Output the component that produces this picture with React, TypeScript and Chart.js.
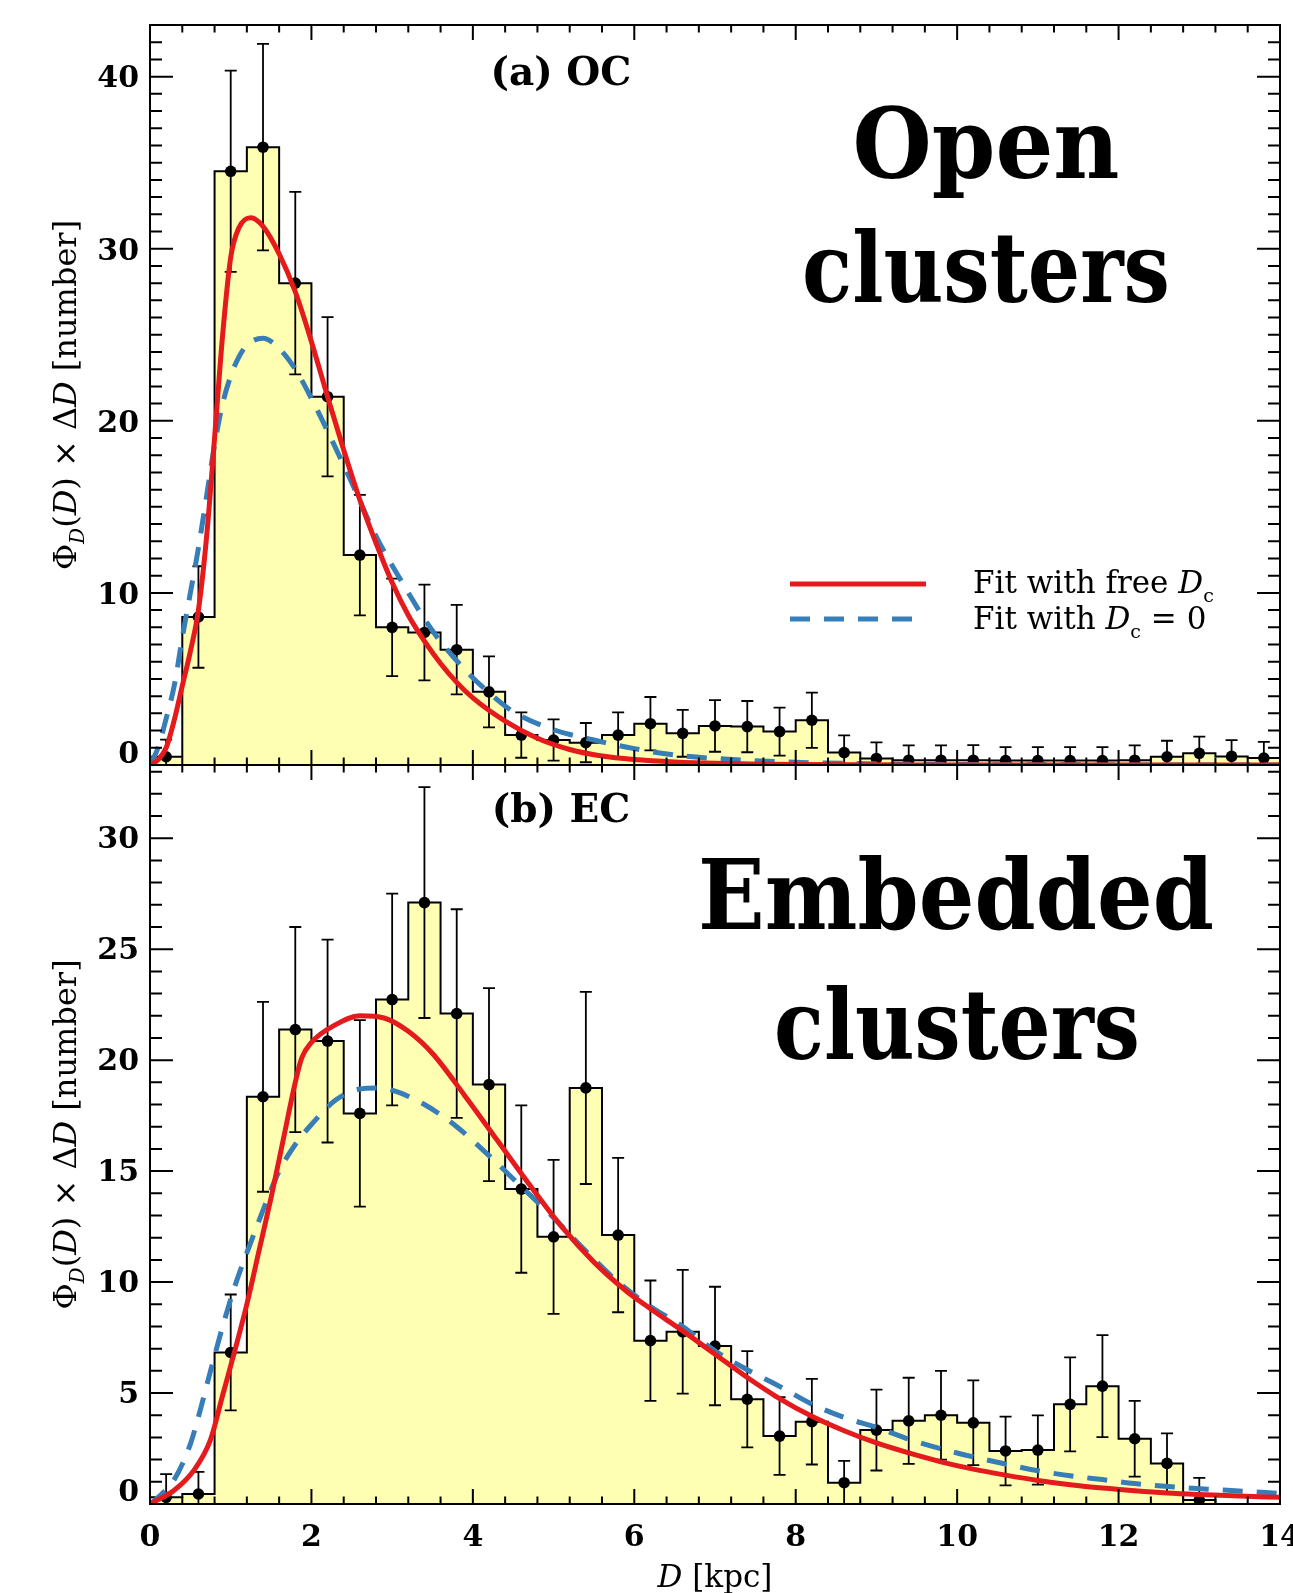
import React, { useEffect, useRef } from 'react';
import { Chart, registerables } from 'chart.js';

Chart.register(...registerables);

// ---------------- data ----------------
const BIN_CENTERS = [0.2, 0.6, 1.0, 1.4, 1.8, 2.2, 2.6, 3.0, 3.4, 3.8, 4.2, 4.6, 5.0, 5.4, 5.8, 6.2, 6.6, 7.0, 7.4, 7.8, 8.2, 8.6, 9.0, 9.4, 9.8, 10.2, 10.6, 11.0, 11.4, 11.8, 12.2, 12.6, 13.0, 13.4, 13.8];
const BIN_WIDTH = 0.4;

// (a) OC histogram and errors
const OC_COUNTS = [0.48, 8.6, 34.5, 35.9, 28.0, 21.4, 12.2, 8.0, 7.7, 6.7, 4.25, 1.74, 1.45, 1.3, 1.74, 2.4, 1.84, 2.27, 2.23, 1.94, 2.6, 0.72, 0.38, 0.28, 0.28, 0.28, 0.26, 0.26, 0.26, 0.26, 0.28, 0.48, 0.68, 0.5, 0.4];
const OC_ERRORS = [1.0, 2.95, 5.85, 6.0, 5.3, 4.63, 3.5, 2.83, 2.78, 2.6, 2.06, 1.32, 1.2, 1.14, 1.32, 1.55, 1.36, 1.5, 1.49, 1.39, 1.61, 1.0, 0.93, 0.86, 0.86, 0.87, 0.78, 0.78, 0.78, 0.78, 0.86, 0.93, 0.97, 0.95, 0.94];

// (b) EC histogram and errors (null = no marker)
const EC_COUNTS = [0.3, 0.45, 6.83, 18.35, 21.38, 20.86, 17.6, 22.73, 27.1, 22.1, 18.9, 14.19, 12.04, 18.75, 12.12, 7.36, 7.76, 7.12, 4.72, 3.06, 3.71, 0.96, 3.33, 3.75, 4.0, 3.66, 2.39, 2.43, 4.49, 5.31, 2.94, 1.83, 0.18, 0, 0];
const EC_ERRORS: (number | null)[] = [1.05, 1.0, 2.61, 4.28, 4.62, 4.57, 4.2, 4.77, 5.2, 4.7, 4.35, 3.77, 3.47, 4.33, 3.48, 2.71, 2.79, 2.67, 2.17, 1.75, 1.93, 0.98, 1.82, 1.94, 2.0, 1.91, 1.55, 1.56, 2.12, 2.3, 1.71, 1.35, 1.0, null, null];

// fit curves, (a) OC
const OC_FREE_X = [0, 0.1, 0.2, 0.3, 0.4, 0.5, 0.6, 0.7, 0.8, 0.9, 1.0, 1.1, 1.25, 1.4, 1.6, 1.8, 2.0, 2.2, 2.4, 2.6, 2.8, 3.0, 3.2, 3.4, 3.6, 3.8, 4.0, 4.4, 4.8, 5.2, 5.6, 6.0, 6.5, 7.0, 8.0, 9.0, 10.0, 12.0, 14.0];
const OC_FREE_Y = [0, 0.3, 1.0, 2.6, 4.6, 6.6, 9.0, 13.2, 19.0, 25.0, 29.5, 31.2, 31.8, 31.3, 29.7, 27.5, 24.6, 21.4, 18.3, 15.4, 12.9, 10.6, 8.7, 7.2, 5.9, 4.8, 3.9, 2.55, 1.55, 0.9, 0.52, 0.32, 0.18, 0.1, 0.03, 0.01, 0.005, 0, 0];
const OC_ZERO_X = [0, 0.1, 0.2, 0.3, 0.4, 0.5, 0.6, 0.7, 0.8, 0.9, 1.0, 1.1, 1.2, 1.4, 1.6, 1.8, 2.0, 2.2, 2.5, 2.8, 3.1, 3.5, 3.85, 4.2, 4.5, 5.0, 5.5, 6.0, 6.5, 7.0, 8.0, 9.0, 10.0, 12.0, 14.0];
const OC_ZERO_Y = [0, 1.0, 2.7, 4.6, 7.4, 10.0, 12.6, 15.6, 18.6, 21.0, 22.6, 23.7, 24.4, 24.8, 24.2, 23.0, 21.3, 19.4, 16.4, 13.3, 10.8, 7.8, 5.8, 4.2, 3.1, 2.05, 1.45, 0.95, 0.58, 0.38, 0.16, 0.07, 0.03, 0.005, 0];

// fit curves, (b) EC
const EC_FREE_X = [0, 0.3, 0.55, 0.75, 0.9, 1.05, 1.2, 1.35, 1.5, 1.65, 1.8, 1.88, 2.0, 2.3, 2.6, 2.9, 3.2, 3.5, 3.9, 4.3, 4.7, 5.1, 5.5, 5.9, 6.2, 6.6, 7.0, 7.4, 7.8, 8.2, 8.6, 9.0, 9.4, 9.8, 10.2, 10.6, 11.0, 11.4, 11.8, 12.2, 12.6, 13.0, 13.5, 14.0];
const EC_FREE_Y = [0, 0.62, 1.55, 2.9, 4.9, 6.9, 9.0, 11.4, 13.8, 16.4, 19.0, 20.1, 20.8, 21.6, 22.0, 21.9, 21.3, 20.3, 18.4, 16.4, 14.4, 12.5, 10.9, 9.6, 8.8, 7.8, 6.75, 5.7, 4.75, 3.95, 3.3, 2.75, 2.3, 1.9, 1.57, 1.3, 1.06, 0.87, 0.72, 0.6, 0.5, 0.43, 0.36, 0.3];
const EC_ZERO_X = [0, 0.1, 0.3, 0.5, 0.62, 0.75, 0.9, 1.05, 1.25, 1.45, 1.6, 1.8, 2.0, 2.3, 2.6, 2.8, 3.0, 3.4, 3.8, 4.2, 4.6, 5.0, 5.4, 5.8, 6.2, 6.6, 7.0, 7.4, 7.8, 8.2, 8.6, 9.0, 9.5, 10.0, 10.6, 11.0, 11.4, 11.8, 12.2, 12.7, 13.3, 14.0];
const EC_ZERO_Y = [0, 0.3, 1.1, 2.7, 4.2, 6.0, 8.0, 9.8, 11.8, 13.7, 15.0, 16.2, 17.1, 18.2, 18.7, 18.75, 18.65, 18.0, 17.0, 15.7, 14.3, 12.9, 11.4, 10.0, 8.9, 8.0, 6.9, 6.05, 5.3, 4.5, 3.9, 3.45, 2.8, 2.3, 1.8, 1.5, 1.27, 1.1, 0.92, 0.76, 0.63, 0.48];

// axes
const X_MIN = 0;
const X_MAX = 14;
const X_MAJOR_STEP = 2;
const X_MINOR_STEP = 0.4;
const OC_Y_MAX = 43;
const OC_Y_MAJOR = 10;
const EC_Y_MAX = 33.3;
const EC_Y_MAJOR = 5;
const Y_MINOR_STEP = 1;

// ---------------- styling / layout ----------------
const W = 1293;
const H = 1593;
const AREA_LEFT = 150;
const AREA_RIGHT = 1280;
const TOP_AREA = { top: 25, bottom: 765 };
const BOT_AREA = { top: 765, bottom: 1504 };
const RED = '#E41A1C';
const BLUE = '#377EB8';
const YELLOW = '#FFFFB3';
const SERIF = '"DejaVu Serif", "Liberation Serif", serif';
const fnt = (size: number, style = '') => `${style} ${size}px ${SERIF}`.trim();
const TICK_FONT_SIZE = 30;

type Seg = { t: string; font: string; dy?: number };

function drawRich(ctx: CanvasRenderingContext2D, segs: Seg[], x: number, y: number, align: 'left' | 'center') {
  ctx.textAlign = 'left';
  ctx.textBaseline = 'alphabetic';
  ctx.fillStyle = '#000';
  let total = 0;
  const widths = segs.map((s) => {
    ctx.font = s.font;
    const w = ctx.measureText(s.t).width;
    total += w;
    return w;
  });
  let cx = align === 'center' ? x - total / 2 : x;
  segs.forEach((s, i) => {
    ctx.font = s.font;
    ctx.fillText(s.t, cx, y + (s.dy || 0));
    cx += widths[i];
  });
}

function drawFitted(ctx: CanvasRenderingContext2D, text: string, cx: number, baseline: number, size: number, targetW: number) {
  ctx.save();
  ctx.font = fnt(size, 'bold');
  const w = ctx.measureText(text).width;
  ctx.translate(cx, baseline);
  ctx.scale(targetW / w, 1);
  ctx.textAlign = 'center';
  ctx.textBaseline = 'alphabetic';
  ctx.fillStyle = '#000';
  ctx.fillText(text, 0, 0);
  ctx.restore();
}

const Y_TITLE: Seg[] = [
  { t: 'Φ', font: fnt(32) },
  { t: 'D', font: fnt(20, 'italic'), dy: 8 },
  { t: '(', font: fnt(32) },
  { t: 'D', font: fnt(32, 'italic') },
  { t: ')', font: fnt(32) },
  { t: ' × ', font: fnt(32) },
  { t: 'Δ', font: fnt(32) },
  { t: 'D', font: fnt(32, 'italic') },
  { t: ' [number]', font: fnt(32) },
];

function drawYTitle(chart: any) {
  const { ctx, chartArea: a } = chart;
  ctx.save();
  ctx.translate(76, (a.top + a.bottom) / 2);
  ctx.rotate(-Math.PI / 2);
  drawRich(ctx, Y_TITLE, 0, 0, 'center');
  ctx.restore();
}

type PanelSpec = {
  key: string;
  counts: number[];
  errors: (number | null)[];
  freeX: number[];
  freeY: number[];
  zeroX: number[];
  zeroY: number[];
  yMax: number;
  yMajor: number;
  labelOffset: number;
  area: { top: number; bottom: number };
  showXLabels: boolean;
  decorate: (chart: any) => void;
};

function drawErrorBars(chart: any, p: PanelSpec) {
  const { ctx, chartArea: a, scales } = chart;
  const x = scales.x;
  const y = scales.y;
  const cap = 6;
  ctx.save();
  ctx.beginPath();
  ctx.rect(a.left, a.top, a.right - a.left, a.bottom - a.top);
  ctx.clip();
  ctx.strokeStyle = '#000';
  ctx.lineWidth = 1.8;
  BIN_CENTERS.forEach((c, i) => {
    const e = p.errors[i];
    if (e === null) return;
    const v = p.counts[i];
    const px = x.getPixelForValue(c);
    const yt = y.getPixelForValue(v + e);
    const yb = y.getPixelForValue(v - e);
    ctx.beginPath();
    ctx.moveTo(px, yt);
    ctx.lineTo(px, yb);
    ctx.moveTo(px - cap, yt);
    ctx.lineTo(px + cap, yt);
    ctx.moveTo(px - cap, yb);
    ctx.lineTo(px + cap, yb);
    ctx.stroke();
  });
  ctx.restore();
}

function drawFrame(chart: any, p: PanelSpec) {
  const { ctx, chartArea: a, scales } = chart;
  const x = scales.x;
  const y = scales.y;
  ctx.save();
  ctx.strokeStyle = '#000';
  ctx.setLineDash([]);
  ctx.lineWidth = 2;
  ctx.strokeRect(a.left, a.top, a.right - a.left, a.bottom - a.top);
  ctx.beginPath();
  const perMajorX = Math.round(X_MAJOR_STEP / X_MINOR_STEP);
  const nx = Math.round((X_MAX - X_MIN) / X_MINOR_STEP);
  for (let k = 0; k <= nx; k++) {
    const px = x.getPixelForValue(X_MIN + k * X_MINOR_STEP);
    const len = k % perMajorX === 0 ? 15 : 7.5;
    ctx.moveTo(px, a.bottom);
    ctx.lineTo(px, a.bottom - len);
    ctx.moveTo(px, a.top);
    ctx.lineTo(px, a.top + len);
  }
  const perMajorY = Math.round(p.yMajor / Y_MINOR_STEP);
  const ny = Math.floor(p.yMax / Y_MINOR_STEP + 1e-6);
  for (let k = 0; k <= ny; k++) {
    const py = y.getPixelForValue(k * Y_MINOR_STEP);
    const len = k % perMajorY === 0 ? 23 : 12;
    ctx.moveTo(a.left, py);
    ctx.lineTo(a.left + len, py);
    ctx.moveTo(a.right, py);
    ctx.lineTo(a.right - len, py);
  }
  ctx.stroke();
  // zero label sits a little above its tick, as in the original figure
  ctx.fillStyle = '#000';
  ctx.font = fnt(TICK_FONT_SIZE, 'bold');
  ctx.textAlign = 'right';
  ctx.textBaseline = 'middle';
  ctx.fillText('0', a.left - 11, y.getPixelForValue(0) - 12.5 + p.labelOffset);
  ctx.restore();
}

function decorateTop(chart: any) {
  const ctx: CanvasRenderingContext2D = chart.ctx;
  ctx.save();
  drawRich(ctx, [{ t: '(a) OC', font: fnt(39, 'bold') }], 561, 85, 'center');
  drawFitted(ctx, 'Open', 986, 178, 98, 267);
  drawFitted(ctx, 'clusters', 986, 302, 98, 368);
  // legend
  ctx.lineWidth = 5;
  ctx.strokeStyle = RED;
  ctx.setLineDash([]);
  ctx.beginPath();
  ctx.moveTo(790, 584);
  ctx.lineTo(926, 584);
  ctx.stroke();
  ctx.strokeStyle = BLUE;
  ctx.setLineDash([20, 14]);
  ctx.beginPath();
  ctx.moveTo(790, 619);
  ctx.lineTo(912, 619);
  ctx.stroke();
  ctx.setLineDash([]);
  drawRich(ctx, [
    { t: 'Fit with free ', font: fnt(31) },
    { t: 'D', font: fnt(31, 'italic') },
    { t: 'c', font: fnt(19), dy: 9 },
  ], 973, 593, 'left');
  drawRich(ctx, [
    { t: 'Fit with ', font: fnt(31) },
    { t: 'D', font: fnt(31, 'italic') },
    { t: 'c', font: fnt(19), dy: 9 },
    { t: ' = 0', font: fnt(31) },
  ], 973, 629, 'left');
  ctx.restore();
  drawYTitle(chart);
}

function decorateBottom(chart: any) {
  const ctx: CanvasRenderingContext2D = chart.ctx;
  ctx.save();
  drawRich(ctx, [{ t: '(b) EC', font: fnt(39, 'bold') }], 561, 822, 'center');
  drawFitted(ctx, 'Embedded', 956, 929, 98, 516);
  drawFitted(ctx, 'clusters', 957, 1059, 98, 366);
  drawRich(ctx, [
    { t: 'D', font: fnt(31, 'italic') },
    { t: ' [kpc]', font: fnt(31) },
  ], (chart.chartArea.left + chart.chartArea.right) / 2, 1587, 'center');
  ctx.restore();
  drawYTitle(chart);
}

function buildConfig(p: PanelSpec): any {
  const last = BIN_CENTERS.length - 1;
  // histogram outline: one point at each bin's left edge plus the final right edge
  const histData = BIN_CENTERS.map((c, i) => ({ x: c - BIN_WIDTH / 2, y: p.counts[i] }));
  histData.push({ x: BIN_CENTERS[last] + BIN_WIDTH / 2, y: p.counts[last] });
  const pointData = BIN_CENTERS.map((c, i) => ({ x: c, y: p.errors[i] === null ? null : p.counts[i] }));
  const tickFont = { family: SERIF, size: TICK_FONT_SIZE, weight: 'bold' as const };

  return {
    type: 'line',
    data: {
      datasets: [
        {
          label: 'Fit with free Dc',
          data: p.freeX.map((x, i) => ({ x, y: p.freeY[i] })),
          borderColor: RED,
          borderWidth: 5,
          pointRadius: 0,
          fill: false,
          cubicInterpolationMode: 'monotone',
          order: 0,
        },
        {
          label: 'Fit with Dc = 0',
          data: p.zeroX.map((x, i) => ({ x, y: p.zeroY[i] })),
          borderColor: BLUE,
          borderWidth: 5,
          borderDash: [20, 14],
          pointRadius: 0,
          fill: false,
          cubicInterpolationMode: 'monotone',
          order: 1,
        },
        {
          label: 'data',
          data: pointData,
          showLine: false,
          pointRadius: 5.8,
          pointBackgroundColor: '#000',
          pointBorderColor: '#000',
          pointBorderWidth: 0,
          clip: 0,
          order: 2,
        },
        {
          label: 'histogram',
          data: histData,
          stepped: 'before',
          borderColor: '#000',
          borderWidth: 2,
          backgroundColor: YELLOW,
          fill: 'start',
          pointRadius: 0,
          order: 3,
        },
      ],
    },
    options: {
      responsive: false,
      animation: false,
      devicePixelRatio: 1,
      events: [],
      layout: {
        padding: {
          left: 0,
          right: W - AREA_RIGHT,
          top: p.area.top,
          bottom: p.showXLabels ? 0 : H - p.area.bottom,
        },
      },
      plugins: {
        legend: { display: false },
        tooltip: { enabled: false },
        title: { display: false },
      },
      scales: {
        x: {
          type: 'linear',
          min: X_MIN,
          max: X_MAX,
          grid: { display: false, drawTicks: false },
          border: { display: false },
          ticks: {
            display: p.showXLabels,
            stepSize: X_MAJOR_STEP,
            includeBounds: false,
            autoSkip: false,
            maxRotation: 0,
            minRotation: 0,
            padding: 16,
            color: '#000',
            font: tickFont,
          },
          afterFit: (s: any) => {
            s.paddingLeft = 0;
            s.paddingRight = 0;
            s.height = p.showXLabels ? H - p.area.bottom : 0;
          },
        },
        y: {
          type: 'linear',
          min: 0,
          max: p.yMax,
          grid: { display: false, drawTicks: false },
          border: { display: false },
          ticks: {
            stepSize: p.yMajor,
            includeBounds: false,
            padding: 11,
            labelOffset: p.labelOffset,
            color: '#000',
            font: tickFont,
            callback: (v: number) => (v === 0 ? '' : String(v)),
          },
          afterFit: (s: any) => {
            s.width = AREA_LEFT;
            s.paddingTop = 0;
            s.paddingBottom = 0;
          },
        },
      },
    },
    plugins: [
      {
        id: 'panel_' + p.key,
        afterDatasetDraw(chart: any, args: any) {
          if (args.index === 3) drawErrorBars(chart, p);
        },
        afterDraw(chart: any) {
          drawFrame(chart, p);
          p.decorate(chart);
        },
      },
    ],
  };
}

const TOP_PANEL: PanelSpec = {
  key: 'oc',
  counts: OC_COUNTS,
  errors: OC_ERRORS,
  freeX: OC_FREE_X,
  freeY: OC_FREE_Y,
  zeroX: OC_ZERO_X,
  zeroY: OC_ZERO_Y,
  yMax: OC_Y_MAX,
  yMajor: OC_Y_MAJOR,
  labelOffset: 3,
  area: TOP_AREA,
  showXLabels: false,
  decorate: decorateTop,
};

const BOTTOM_PANEL: PanelSpec = {
  key: 'ec',
  counts: EC_COUNTS,
  errors: EC_ERRORS,
  freeX: EC_FREE_X,
  freeY: EC_FREE_Y,
  zeroX: EC_ZERO_X,
  zeroY: EC_ZERO_Y,
  yMax: EC_Y_MAX,
  yMajor: EC_Y_MAJOR,
  labelOffset: 2,
  area: BOT_AREA,
  showXLabels: true,
  decorate: decorateBottom,
};

export default function App() {
  const topRef = useRef<HTMLCanvasElement>(null);
  const botRef = useRef<HTMLCanvasElement>(null);

  useEffect(() => {
    const c1 = new Chart(topRef.current as HTMLCanvasElement, buildConfig(TOP_PANEL));
    const c2 = new Chart(botRef.current as HTMLCanvasElement, buildConfig(BOTTOM_PANEL));
    return () => {
      c1.destroy();
      c2.destroy();
    };
  }, []);

  return (
    <div style={{ position: 'absolute', left: 0, top: 0, width: W, height: H, overflow: 'hidden', background: '#fff' }}>
      <canvas ref={topRef} width={W} height={H} style={{ position: 'absolute', left: 0, top: 0 }} />
      <canvas ref={botRef} width={W} height={H} style={{ position: 'absolute', left: 0, top: 0 }} />
    </div>
  );
}
